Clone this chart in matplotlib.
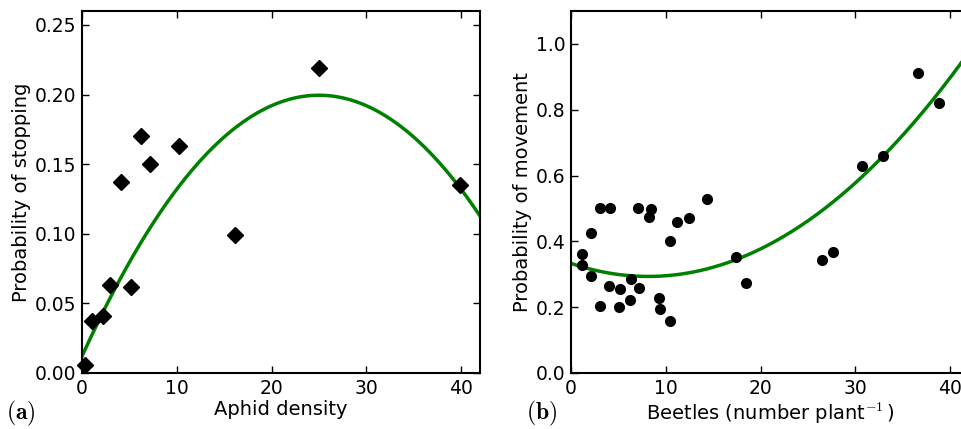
import numpy as np
import matplotlib
matplotlib.use("Agg")
import matplotlib.pyplot as plt

plt.rcParams['mathtext.fontset'] = 'cm'
plt.rcParams['font.family'] = ['DejaVu Sans']

# panel (a): aphid density vs probability of stopping
aphid_x = [0.3, 1.1, 2.2, 3.0, 4.1, 5.2, 6.2, 7.2, 10.2, 16.1, 25.0, 39.9]
aphid_y = [0.006, 0.037, 0.041, 0.063, 0.137, 0.062, 0.170, 0.150, 0.163, 0.099, 0.219, 0.135]
aphid_fit = [0.012, 0.015, -0.0003]      # c0 + c1 x + c2 x^2

# panel (b): beetles vs probability of movement
beetle_x = [1.2, 1.2, 2.1, 2.1, 3.1, 3.1, 4.1, 4.0, 5.2, 5.1, 6.3, 6.2, 7.2, 7.1,
            8.2, 8.4, 9.3, 9.4, 10.4, 10.4, 11.2, 12.4, 14.4, 17.4, 18.5,
            26.5, 27.6, 30.7, 32.9, 36.6, 38.8]
beetle_y = [0.363, 0.328, 0.425, 0.295, 0.501, 0.205, 0.501, 0.264, 0.256, 0.202,
            0.287, 0.221, 0.257, 0.502, 0.473, 0.499, 0.227, 0.195, 0.400, 0.159,
            0.458, 0.472, 0.529, 0.352, 0.274, 0.344, 0.369, 0.628, 0.659, 0.913, 0.820]
beetle_fit = [0.333, -0.0097, 0.000595]

fig = plt.figure(figsize=(9.62, 4.29), dpi=100)
ax1 = fig.add_axes([82/962, 1-373/429, 398/962, 362/429])
ax2 = fig.add_axes([571/962, 1-373/429, 398/962, 362/429])

xx = np.linspace(0, 42, 300)

ax1.plot(xx, np.polyval(aphid_fit[::-1], xx), color='green', lw=2.5, zorder=2)
ax1.plot(aphid_x, aphid_y, 'D', color='black', ms=8, zorder=3, clip_on=False)
ax1.set_xlim(0, 42)
ax1.set_ylim(0, 0.26)
ax1.set_xticks([0, 10, 20, 30, 40])
ax1.set_yticks([0, 0.05, 0.10, 0.15, 0.20, 0.25])
ax1.set_yticklabels(['0.00', '0.05', '0.10', '0.15', '0.20', '0.25'])
ax1.set_xlabel('Aphid density', fontsize=14, labelpad=2)
ax1.set_ylabel('Probability of stopping', fontsize=14, labelpad=3)

ax2.plot(xx, np.polyval(beetle_fit[::-1], xx), color='green', lw=2.5, zorder=2)
ax2.plot(beetle_x, beetle_y, 'o', color='black', ms=7, zorder=3)
ax2.set_xlim(0, 42)
ax2.set_ylim(0, 1.1)
ax2.set_xticks([0, 10, 20, 30, 40])
ax2.set_yticks([0, 0.2, 0.4, 0.6, 0.8, 1.0])
ax2.set_yticklabels(['0.0', '0.2', '0.4', '0.6', '0.8', '1.0'])
ax2.set_xlabel(r'Beetles (number plant$^{-1}\,$)', fontsize=14, labelpad=2)
ax2.set_ylabel('Probability of movement', fontsize=14, labelpad=3)

for ax in (ax1, ax2):
    for s in ax.spines.values():
        s.set_linewidth(1.5)
    ax.tick_params(direction='in', top=True, right=True, length=5, width=1,
                   labelsize=13.5, pad=4)

fig.text(6/962, 1-413/429, r'$\mathbf{(a)}$', fontsize=17, va='center', ha='left')
fig.text(526/962, 1-413/429, r'$\mathbf{(b)}$', fontsize=17, va='center', ha='left')

fig.savefig('out.png', dpi=100)
